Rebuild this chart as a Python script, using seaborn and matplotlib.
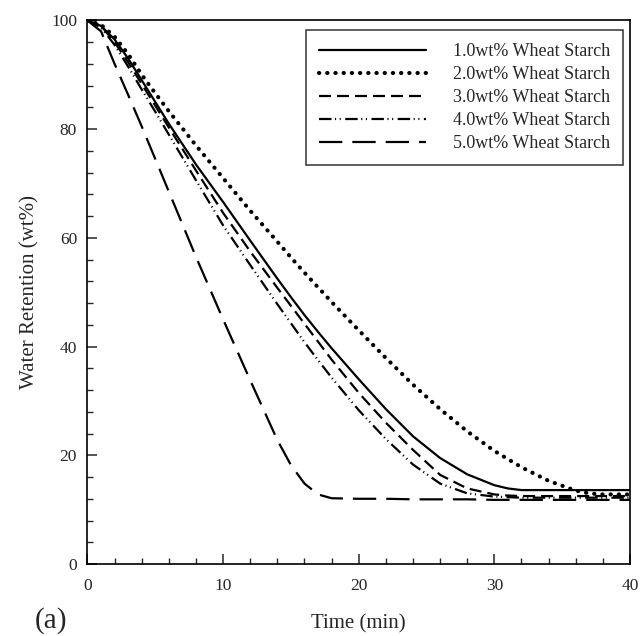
import pandas as pd
import matplotlib
matplotlib.use('Agg')
import matplotlib.pyplot as plt
from matplotlib.ticker import MultipleLocator
import seaborn as sns

# time axis (min) and water retention (wt%)
time = [0, 1, 2, 3, 4, 5, 6, 8, 10, 12, 14, 15, 16, 17, 18, 20, 22, 24, 26, 28, 30, 31, 32, 34, 36, 37, 38, 40]

ws1 = [100, 99, 96.5, 93, 89, 85, 81, 73.5, 66.6, 59.5, 52.5, 49.1, 45.8, 42.7, 39.7, 34, 28.5, 23.5, 19.5, 16.5, 14.5, 13.9, 13.6, 13.6, 13.6, 13.6, 13.6, 13.6]
ws2 = [100, 99.2, 97, 93.8, 90, 86.6, 83.3, 77, 71, 65, 59.3, 56.4, 53.6, 50.9, 48.2, 43, 37.9, 33, 28.5, 24.4, 20.8, 19.3, 17.8, 15.3, 13.5, 13, 12.8, 12.8]
ws3 = [100, 99, 96, 92.3, 88.3, 84.3, 80.3, 72.4, 64.6, 57.5, 50.8, 47.5, 44.2, 40.9, 37.6, 31.5, 26, 21, 16.4, 13.9, 12.8, 12.6, 12.5, 12.5, 12.5, 12.5, 12.5, 12.5]
ws4 = [100, 98.7, 95.5, 91.5, 87.3, 83.2, 79, 70.6, 62.3, 55, 47.8, 44.3, 40.8, 37.5, 34.3, 28.3, 23, 18.3, 14.8, 13, 12.4, 12.3, 12.2, 12.2, 12.2, 12.2, 12.2, 12.2]
ws5 = [100, 98, 92, 86.3, 80.5, 74.5, 68.5, 56.5, 45, 33.8, 22.8, 18.2, 14.8, 12.8, 12.1, 12.0, 12.0, 11.9, 11.9, 11.9, 11.8, 11.8, 11.8, 11.8, 11.8, 11.8, 11.8, 11.8]

labels = ['1.0wt% Wheat Starch', '2.0wt% Wheat Starch', '3.0wt% Wheat Starch',
          '4.0wt% Wheat Starch', '5.0wt% Wheat Starch']

sns.set_style('ticks')
plt.rcParams['font.family'] = ['Liberation Serif', 'DejaVu Serif']
plt.rcParams['xtick.direction'] = 'in'
plt.rcParams['ytick.direction'] = 'in'

fig = plt.figure(figsize=(6.41, 6.36), dpi=100)
ax = fig.add_axes([0.1365, 0.1132, 0.8463, 0.8546])

# line width, dash pattern (in units of line width), cap style
styles = [
    (1.6, None, 'butt'),
    (3.0, (0.05, 1.92), 'round'),
    (1.6, (5.4, 2.7), 'butt'),
    (1.6, (5.6, 1.6, 0.5, 1.6, 0.5, 2.0), 'butt'),
    (1.6, (10.5, 4.5), 'butt'),
]
for y, lab, (lw, dash, cap) in zip([ws1, ws2, ws3, ws4, ws5], labels, styles):
    df = pd.DataFrame({'t': time, 'w': y})
    sns.lineplot(data=df, x='t', y='w', ax=ax, color='black', label=lab, lw=lw)
    line = ax.lines[-1]
    if dash is not None:
        line.set_dashes(dash)
    line.set_dash_capstyle(cap)

ax.set_xlim(0, 40)
ax.set_ylim(0, 100)
ax.xaxis.set_major_locator(MultipleLocator(10))
ax.xaxis.set_minor_locator(MultipleLocator(2))
ax.yaxis.set_major_locator(MultipleLocator(20))
ax.yaxis.set_minor_locator(MultipleLocator(4))
ax.tick_params(which='major', length=7, width=1.1, labelsize=12.5)
ax.tick_params(axis='x', which='major', pad=10)
ax.tick_params(axis='y', which='major', pad=7.5)
ax.tick_params(which='minor', length=4, width=1.0)
for s in ax.spines.values():
    s.set_linewidth(1.2)
    s.set_color('black')

ax.set_xlabel('Time (min)', fontsize=15, labelpad=15)
ax.set_ylabel('Water Retention (wt%)', fontsize=15, labelpad=8.5)

leg = ax.legend(loc='upper right', fontsize=13, handlelength=5.9, handletextpad=1.5,
                labelspacing=0.33, frameon=True, fancybox=False, borderpad=0.72,
                borderaxespad=0, bbox_to_anchor=(0.987, 0.9825))
leg.get_frame().set_edgecolor('black')
leg.get_frame().set_linewidth(1.1)

fig.text(0.080, 0.024, '(a)', fontsize=21, ha='center', va='center')

fig.savefig('out.png', dpi=100)
